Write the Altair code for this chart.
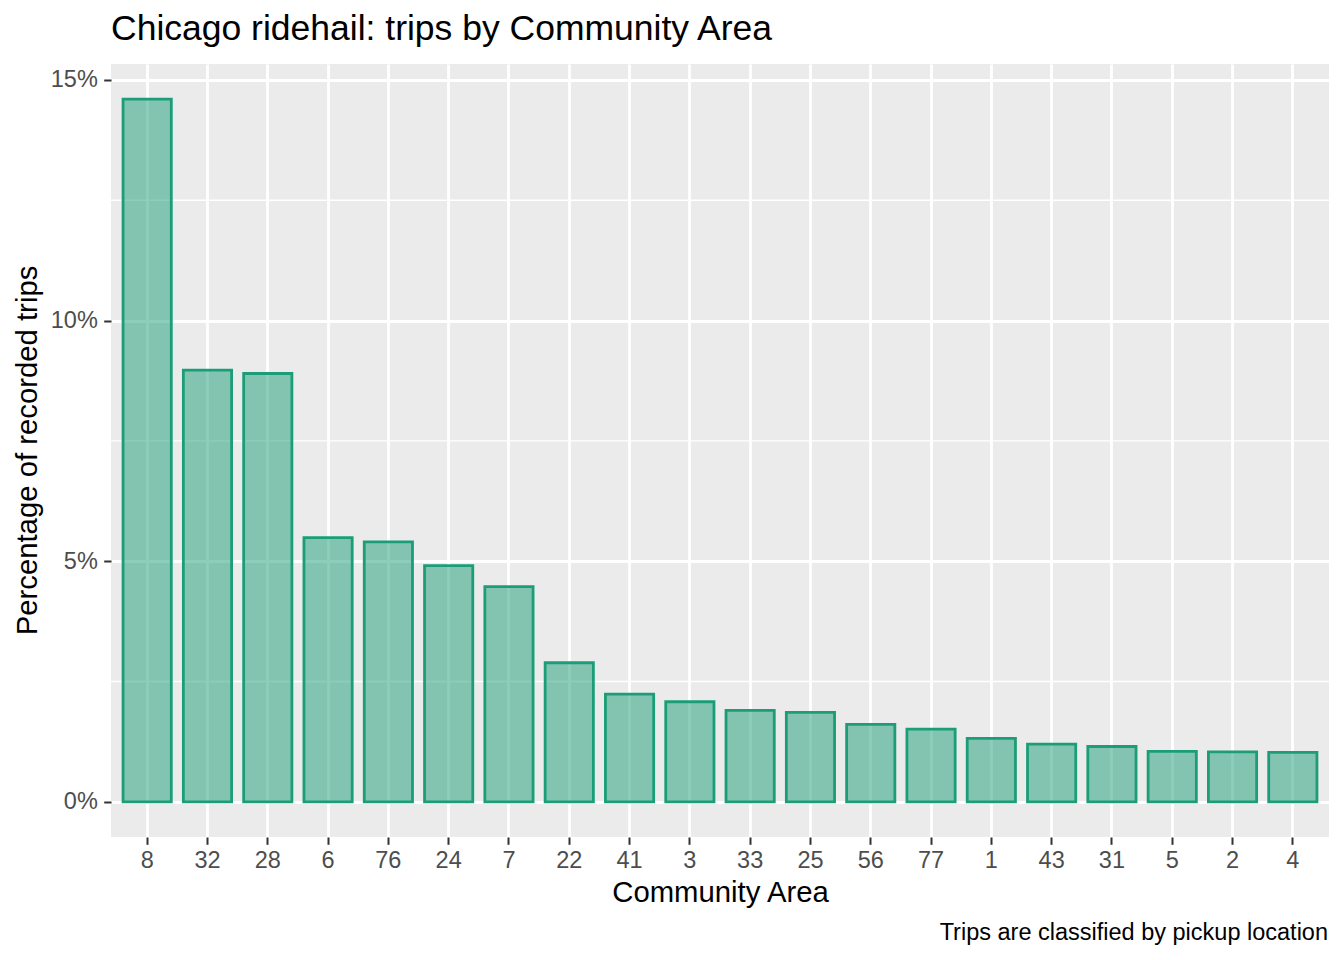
import altair as alt
import pandas as pd

# community areas in plotted order, share of recorded trips (%)
areas = ["8", "32", "28", "6", "76", "24", "7", "22", "41", "3",
         "33", "25", "56", "77", "1", "43", "31", "5", "2", "4"]
shares = [14.60, 8.97, 8.90, 5.49, 5.40, 4.91, 4.47, 2.89, 2.24, 2.08,
          1.90, 1.86, 1.61, 1.51, 1.32, 1.20, 1.15, 1.05, 1.04, 1.03]
y_breaks = [0, 5, 10, 15]
minor_breaks = [2.5, 7.5, 12.5]
title_text = "Chicago ridehail: trips by Community Area"
caption = "Trips are classified by pickup location"

FONT = "Liberation Sans"
GREEN = "#1b9e77"

df = pd.DataFrame({"area": areas, "pct": shares})
minor_df = pd.DataFrame({"pct": minor_breaks})
cap_df = pd.DataFrame({"t": [caption]})
title_df = pd.DataFrame({"t": [title_text]})

# ggplot-style 5% expansion of the range
top = max(shares)
yscale = alt.Scale(domain=[-0.05 * top, 1.05 * top], nice=False, zero=False)
y_axis = alt.Axis(values=y_breaks, labelExpr="datum.value + '%'",
                  labelPadding=6.4, titleAngle=270,
                  titleX=-75, titleY=386, titleBaseline="alphabetic")
y_title = "Percentage of recorded trips"

minor_grid = alt.Chart(minor_df).mark_rule(color="white", strokeWidth=1.4).encode(
    y=alt.Y("pct:Q", scale=yscale, axis=y_axis, title=y_title)
)

bars = alt.Chart(df).mark_bar(
    color=GREEN, fillOpacity=0.5, stroke=GREEN, strokeWidth=2.8
).encode(
    x=alt.X("area:N", sort=areas, title="Community Area",
            scale=alt.Scale(paddingInner=0.2, paddingOuter=0.2),
            axis=alt.Axis(labelAngle=0, bandPosition=0.5, grid=True,
                          labelBaseline="alphabetic", labelPadding=23,
                          titleX=609, titleY=64, titleBaseline="alphabetic")),
    y=alt.Y("pct:Q", scale=yscale, axis=y_axis, title=y_title),
)

title = alt.Chart(title_df).mark_text(
    align="left", baseline="alphabetic", fontSize=35.5, font=FONT, color="black"
).encode(x=alt.value(0), y=alt.value(-24), text="t:N")

cap = alt.Chart(cap_df).mark_text(
    align="right", baseline="alphabetic", fontSize=23.5, font=FONT, color="black"
).encode(x=alt.value(1217), y=alt.value(876), text="t:N")

chart = alt.layer(minor_grid, bars, title, cap).properties(
    width=1218, height=773,
    autosize=alt.AutoSizeParams(type="none"),
    padding={"left": 103, "top": 56, "right": 5, "bottom": 112},
).configure_view(
    fill="#EBEBEB", strokeWidth=0
).configure_axis(
    domain=False, gridColor="white", gridWidth=2.8,
    tickColor="#333333", tickWidth=2, tickSize=7.3,
    labelFont=FONT, labelFontSize=23.5, labelColor="#4D4D4D",
    titleFont=FONT, titleFontSize=29.3, titleFontWeight="normal", titleColor="black",
)

chart.save("out.html", embed_options={"renderer": "svg", "actions": False})
